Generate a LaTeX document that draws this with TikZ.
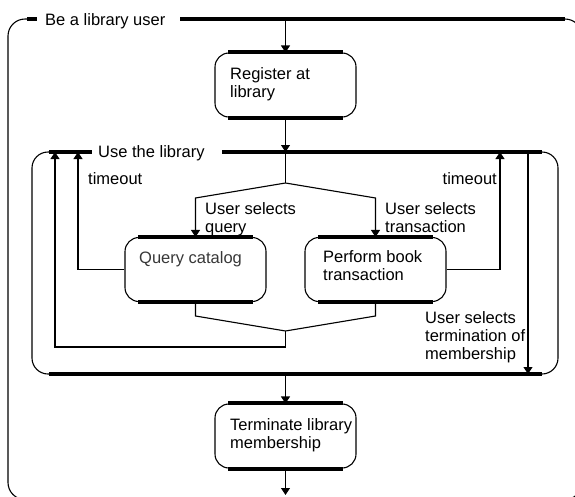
\documentclass[tikz,border=0pt]{standalone}
\usepackage{fontspec}
\setmainfont{Liberation Sans}
\usetikzlibrary{arrows.meta}
\definecolor{qgray}{RGB}{55,55,55}
\begin{document}
\begin{tikzpicture}[x=1pt,y=-1pt,
  thinline/.style={line width=1.1pt},
  bar/.style={line width=4pt,line cap=butt},
  flow/.style={line width=1.1pt,-{Triangle[width=9pt,length=7pt]}},
  actbox/.style={draw,line width=1.1pt,rounded corners=14pt,minimum width=141pt,minimum height=64pt,inner sep=0pt},
  lbl/.style={inner sep=0pt,align=left,font=\fontsize{16.5}{18}\selectfont},
]
\useasboundingbox (0,0) rectangle (575,496);
\clip (0,0) rectangle (575,496);

% ---------- outer frame ----------
\draw[thinline,rounded corners=17pt] (30,19) -- (8,19) -- (8,499.5) -- (582,499.5) -- (582,19) -- (562,19);
\coordinate (ob1) at (27,19); \coordinate (ob2) at (37,19);
\coordinate (ob3) at (180,19); \coordinate (ob4) at (565,19);
\draw[bar] (ob1) -- (ob2);
\draw[bar] (ob3) -- (ob4);
\node[lbl,anchor=base west] (outerT) at (45,25) {Be a library user};
\coordinate (s0) at (285.5,19);

% ---------- register ----------
\node[actbox] (reg) at (285.5,85) {};
\node[lbl,anchor=base west] (regT) at (230,97) {Register at\\library};

% ---------- inner frame ----------
\draw[thinline,rounded corners=16pt] (60,152) -- (32,152) -- (32,374) -- (558,374) -- (558,152) -- (530,152);
\coordinate (ib1) at (49,152); \coordinate (ib2) at (92,152);
\coordinate (ib3) at (222,152); \coordinate (ib4) at (542,152);
\coordinate (ib5) at (49,374); \coordinate (ib6) at (542,374);
\draw[bar] (ib1) -- (ib2);
\draw[bar] (ib3) -- (ib4);
\draw[bar] (ib5) -- (ib6);
\node[lbl,anchor=base west] (innerT) at (98,157) {Use the library};

\coordinate (u0) at (285.5,152);
\coordinate (fk) at (285.5,183);
\coordinate (fkL) at (195.5,198);
\coordinate (fkR) at (375.5,198);

% ---------- activities ----------
\node[actbox] (query) at (195.5,269.5) {};
\node[lbl,anchor=base west,text=qgray] (queryT) at (139,263) {Query catalog};
\node[actbox] (perf) at (375.5,269.5) {};
\node[lbl,anchor=base west] (perfT) at (323,280) {Perform book\\transaction};
\node[actbox] (term) at (285.5,436) {};
\node[lbl,anchor=base west] (termT) at (230,448) {Terminate library\\membership};

% thick bars on activities
\foreach \b in {reg,query,perf,term}{
  \draw[bar] ([xshift=14pt]\b.north west) -- ([xshift=-14pt]\b.north east);
  \draw[bar] ([xshift=14pt]\b.south west) -- ([xshift=-14pt]\b.south east);
}

% ---------- connectors ----------
\draw[flow] (s0) -- (reg.north);
\draw[flow] (reg.south) -- (u0);
\draw[thinline] (u0) -- (fk);
\draw[flow] (fk) -- (fkL) -- (query.north);
\draw[flow] (fk) -- (fkR) -- (perf.north);

\coordinate (jL) at (195.5,316);
\coordinate (jR) at (375.5,316);
\coordinate (jn) at (285.5,331);
\coordinate (jd) at (285.5,347);
\coordinate (jc) at (55,347);
\coordinate (jt) at (55,152);
\draw[thinline] (query.south) -- (jL) -- (jn);
\draw[thinline] (perf.south) -- (jR) -- (jn);
\draw[flow] (jn) -- (jd) -- (jc) -- (jt);

\coordinate (toL1) at (78,269.5);
\coordinate (toL2) at (78,152);
\draw[flow] (query.west) -- (toL1) -- (toL2);
\coordinate (toR1) at (500,269.5);
\coordinate (toR2) at (500,152);
\draw[flow] (perf.east) -- (toR1) -- (toR2);

\coordinate (tm1) at (528,152);
\coordinate (tm2) at (528,374);
\draw[flow] (tm1) -- (tm2);

\coordinate (b0) at (285.5,374);
\draw[flow] (b0) -- (term.north);
\coordinate (endc) at (285.5,495);
\draw[flow] (term.south) -- (endc);

% ---------- labels ----------
\node[lbl,anchor=base west] (toLT) at (88,184) {timeout};
\node[lbl,anchor=base east] (toRT) at (497,184) {timeout};
\node[lbl,anchor=base west] (selQ) at (205,232) {User selects\\query};
\node[lbl,anchor=base west] (selT) at (385,232) {User selects\\transaction};
\node[lbl,anchor=base west] (selM) at (425,359) {User selects\\termination of\\membership};
\end{tikzpicture}
\end{document}
